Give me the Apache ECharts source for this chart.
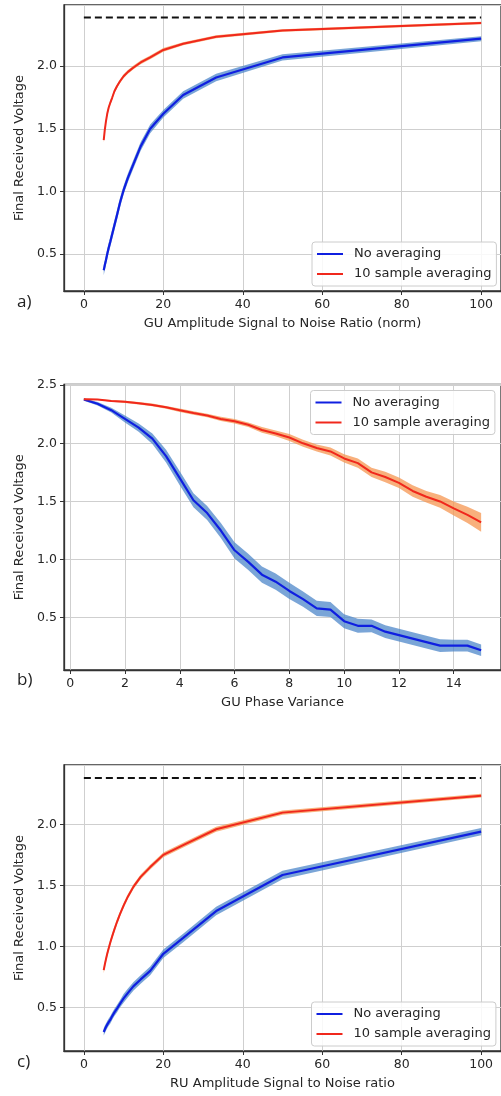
<!DOCTYPE html>
<html>
<head>
<meta charset="utf-8">
<script src="https://cdn.jsdelivr.net/npm/echarts@6/dist/echarts.min.js"></script>
<style>
  html, body { margin: 0; padding: 0; background: #fff; }
  #chart { width: 501px; height: 1096px; }
</style>
</head>
<body>
<div id="chart"></div>
<script>
// ---------- DATA ----------
const seriesNames = ['No averaging', '10 sample averaging'];
const panelLabels = ['a)', 'b)', 'c)'];
const xTitles = ['GU Amplitude Signal to Noise Ratio (norm)', 'GU Phase Variance', 'RU Amplitude Signal to Noise ratio'];
const yTitle = 'Final Received Voltage';

// panel a / c x values (SNR)
const snrX = [5, 5.26, 5.56, 5.88, 6.25, 6.67, 7.14, 7.69, 8.33, 9.09, 10, 11.1, 12.5, 14.3, 16.7, 20, 25, 33.3, 50, 100];
// panel a
const aNoAvg   = [0.37, 0.41, 0.45, 0.50, 0.55, 0.60, 0.66, 0.73, 0.81, 0.91, 1.01, 1.11, 1.22, 1.36, 1.50, 1.62, 1.77, 1.91, 2.07, 2.22];
const aNoAvgSd = [0.04, 0.04, 0.04, 0.04, 0.04, 0.04, 0.04, 0.04, 0.04, 0.04, 0.035, 0.035, 0.035, 0.035, 0.035, 0.03, 0.03, 0.03, 0.025, 0.02];
const aAvg     = [1.41, 1.49, 1.56, 1.62, 1.67, 1.71, 1.75, 1.80, 1.84, 1.88, 1.92, 1.955, 1.99, 2.03, 2.07, 2.13, 2.18, 2.235, 2.285, 2.345];
const aAvgSd   = [0.02, 0.02, 0.02, 0.02, 0.018, 0.018, 0.016, 0.016, 0.015, 0.015, 0.015, 0.015, 0.015, 0.015, 0.015, 0.015, 0.012, 0.012, 0.01, 0.01];
const aRef = 2.39;

// panel b x values (phase variance)
const phaseX   = [0.5, 1, 1.5, 2, 2.5, 3, 3.5, 4, 4.5, 5, 5.5, 6, 6.5, 7, 7.5, 8, 8.5, 9, 9.5, 10, 10.5, 11, 11.5, 12, 12.5, 13, 13.5, 14, 14.5, 15];
const bNoAvg   = [2.377, 2.34, 2.285, 2.21, 2.135, 2.04, 1.89, 1.70, 1.51, 1.40, 1.25, 1.08, 0.98, 0.87, 0.81, 0.73, 0.66, 0.58, 0.57, 0.47, 0.43, 0.43, 0.38, 0.35, 0.32, 0.29, 0.26, 0.26, 0.26, 0.22];
const bNoAvgSd = [0.01, 0.015, 0.02, 0.03, 0.035, 0.045, 0.055, 0.06, 0.06, 0.06, 0.065, 0.07, 0.07, 0.07, 0.07, 0.07, 0.065, 0.065, 0.065, 0.06, 0.06, 0.055, 0.055, 0.055, 0.055, 0.055, 0.055, 0.05, 0.05, 0.05];
const bAvg     = [2.38, 2.377, 2.365, 2.357, 2.345, 2.33, 2.31, 2.285, 2.26, 2.24, 2.21, 2.19, 2.16, 2.115, 2.085, 2.05, 2.0, 1.96, 1.93, 1.87, 1.83, 1.75, 1.71, 1.66, 1.59, 1.54, 1.50, 1.44, 1.385, 1.32];
const bAvgSd   = [0.005, 0.005, 0.008, 0.01, 0.01, 0.012, 0.012, 0.015, 0.015, 0.015, 0.018, 0.02, 0.02, 0.025, 0.025, 0.03, 0.03, 0.03, 0.035, 0.035, 0.04, 0.04, 0.045, 0.045, 0.05, 0.05, 0.055, 0.06, 0.07, 0.08];

// panel c
const cNoAvg   = [0.30, 0.32, 0.34, 0.36, 0.38, 0.40, 0.43, 0.46, 0.49, 0.53, 0.575, 0.62, 0.675, 0.73, 0.80, 0.94, 1.07, 1.29, 1.585, 1.94];
const cNoAvgSd = [0.03, 0.03, 0.03, 0.03, 0.03, 0.03, 0.03, 0.03, 0.03, 0.03, 0.035, 0.035, 0.035, 0.035, 0.035, 0.035, 0.035, 0.035, 0.035, 0.03];
const cAvg     = [0.806, 0.85, 0.895, 0.94, 0.985, 1.035, 1.085, 1.14, 1.20, 1.265, 1.335, 1.41, 1.49, 1.57, 1.65, 1.75, 1.83, 1.96, 2.096, 2.235];
const cAvgSd   = [0.025, 0.025, 0.025, 0.025, 0.025, 0.022, 0.022, 0.022, 0.022, 0.02, 0.02, 0.02, 0.02, 0.02, 0.02, 0.02, 0.02, 0.02, 0.018, 0.015];
const cRef = 2.38;
const refX = [0, 100];

// ---------- STYLE ----------
const BLUE = '#0f1fe0', RED = '#f0281c';
const BLUE_BAND = 'rgba(70,130,200,0.72)', RED_BAND = 'rgba(245,150,80,0.75)';
const FONT = 'DejaVu Sans';
const TXT = '#262626';

const grids = [
  { left: 64, top: 5,   width: 441, height: 286 },
  { left: 64, top: 384.5, width: 439, height: 285.5 },
  { left: 64, top: 765, width: 441, height: 286 }
];
const xRanges = [[-5, 105], [-0.225, 15.725], [-5, 105]];
const yRanges = [[0.205, 2.489], [0.05, 2.506], [0.144, 2.486]];
const xSplit = [5, 8, 5];

function xy(xs, ys) { return xs.map((x, i) => [x, ys[i]]); }

function band(idx, xs, vals, sd, color) {
  return {
    type: 'custom', xAxisIndex: idx, yAxisIndex: idx, silent: true, z: 1,
    data: [[xs[0], vals[0]]],
    renderItem: function (params, api) {
      const pts = [];
      for (let i = 0; i < xs.length; i++) pts.push(api.coord([xs[i], vals[i] + sd[i]]));
      for (let i = xs.length - 1; i >= 0; i--) pts.push(api.coord([xs[i], vals[i] - sd[i]]));
      return { type: 'polygon', shape: { points: pts }, style: { fill: color } };
    }
  };
}
function line(idx, name, xs, vals, color, w) {
  return {
    type: 'line', name: name, xAxisIndex: idx, yAxisIndex: idx, data: xy(xs, vals),
    showSymbol: false, symbol: 'none', z: 3, silent: true,
    lineStyle: { color: color, width: w }, itemStyle: { color: color }
  };
}
function refLine(idx, v) {
  return {
    type: 'line', xAxisIndex: idx, yAxisIndex: idx, data: xy(refX, [v, v]),
    showSymbol: false, symbol: 'none', z: 4, silent: true,
    lineStyle: { color: '#111', width: 2, type: [7, 4] }
  };
}

const xAxes = [], yAxes = [];
for (let i = 0; i < 3; i++) {
  xAxes.push({
    type: 'value', gridIndex: i, min: xRanges[i][0], max: xRanges[i][1], splitNumber: xSplit[i],
    name: xTitles[i], nameLocation: 'middle', nameGap: 26,
    nameTextStyle: { fontFamily: FONT, fontSize: 13, color: TXT },
    axisLine: { show: true, onZero: false, lineStyle: { color: '#333', width: 1.3 } },
    axisTick: { show: true, inside: false, length: 4, lineStyle: { color: '#333', width: 1 } },
    axisLabel: { fontFamily: FONT, fontSize: 12.5, color: TXT, margin: 7, showMinLabel: false, showMaxLabel: false },
    splitLine: { show: true, lineStyle: { color: '#cfcfcf', width: 1 } }
  });
  yAxes.push({
    type: 'value', gridIndex: i, min: yRanges[i][0], max: yRanges[i][1], splitNumber: 5,
    name: yTitle, nameLocation: 'middle', nameGap: 34, nameRotate: 90,
    nameTextStyle: { fontFamily: FONT, fontSize: 13, color: TXT },
    axisLine: { show: true, onZero: false, lineStyle: { color: '#333', width: 1.3 } },
    axisTick: { show: true, inside: false, length: 4, lineStyle: { color: '#333', width: 1 } },
    axisLabel: { fontFamily: FONT, fontSize: 12.5, color: TXT, margin: 7, showMinLabel: false, showMaxLabel: false,
      formatter: v => v.toFixed(1) },
    splitLine: { show: true, lineStyle: { color: '#cfcfcf', width: 1 } }
  });
}

const series = [
  band(0, snrX, aNoAvg, aNoAvgSd, BLUE_BAND),
  band(0, snrX, aAvg, aAvgSd, RED_BAND),
  line(0, seriesNames[0], snrX, aNoAvg, BLUE, 2.2),
  line(0, seriesNames[1], snrX, aAvg, RED, 2),
  refLine(0, aRef),
  band(1, phaseX, bNoAvg, bNoAvgSd, BLUE_BAND),
  band(1, phaseX, bAvg, bAvgSd, RED_BAND),
  line(1, seriesNames[0], phaseX, bNoAvg, BLUE, 2.2),
  line(1, seriesNames[1], phaseX, bAvg, RED, 2),
  band(2, snrX, cNoAvg, cNoAvgSd, BLUE_BAND),
  band(2, snrX, cAvg, cAvgSd, RED_BAND),
  line(2, seriesNames[0], snrX, cNoAvg, BLUE, 2.2),
  line(2, seriesNames[1], snrX, cAvg, RED, 2),
  refLine(2, cRef)
];

const legendPos = [[312, 242], [310.5, 390.5], [311.5, 1002]];
const legends = legendPos.map(p => ({
  left: p[0], top: p[1], orient: 'vertical', itemGap: 5, itemWidth: 26, itemHeight: 2,
  padding: [4.5, 5, 4.5, 5], backgroundColor: 'rgba(255,255,255,0.85)',
  borderColor: '#cccccc', borderWidth: 1, borderRadius: 3, selectedMode: false,
  textStyle: { fontFamily: FONT, fontSize: 13, color: TXT, lineHeight: 15, padding: [0, 0, 0, 6] },
  data: [
    { name: seriesNames[0], icon: 'rect', itemStyle: { color: BLUE } },
    { name: seriesNames[1], icon: 'rect', itemStyle: { color: RED } }
  ]
}));

const labelY = [305, 683, 1065];
const graphics = panelLabels.map((t, i) => ({
  type: 'text', left: 17, top: labelY[i] - 11,
  style: { text: t, font: '17px "Open Sans"', fill: '#222' }
}));

const chart = echarts.init(document.getElementById('chart'), null, { renderer: 'canvas' });
chart.setOption({
  animation: false,
  backgroundColor: '#fff',
  grid: grids.map(g => Object.assign({ show: true, borderColor: '#333', borderWidth: 1.3, backgroundColor: 'transparent', containLabel: false }, g)),
  xAxis: xAxes,
  yAxis: yAxes,
  legend: legends,
  graphic: graphics,
  series: series
});
</script>
</body>
</html>
